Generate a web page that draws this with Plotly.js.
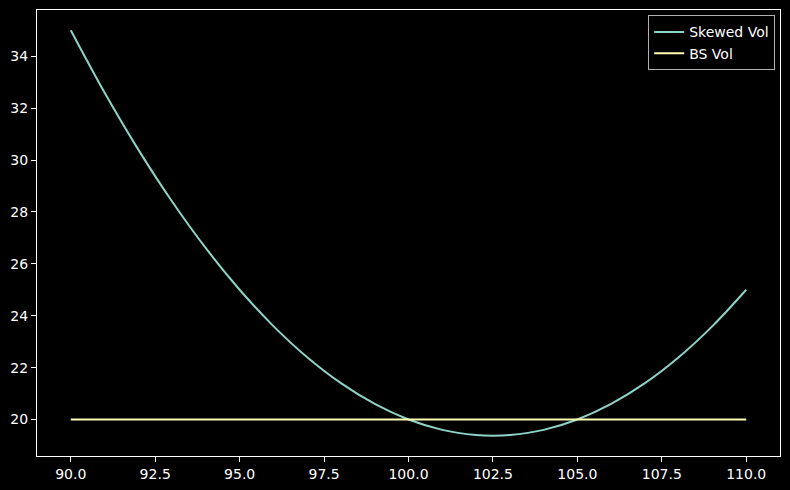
<!DOCTYPE html>
<html>
<head>
<meta charset="utf-8">
<script src="https://cdn.plot.ly/plotly-3.0.1.min.js"></script>
<style>html,body{margin:0;padding:0;background:#000;}#chart{width:790px;height:490px;}</style>
</head>
<body>
<div id="chart"></div>
<script>
// Strike prices (x)
const strikes = [90, 91, 92, 93, 94, 95, 96, 97, 98, 99, 100, 101, 102, 102.5, 103, 104, 105, 106, 107, 108, 109, 110];
// Skewed volatility values
const skewedVol = [35.0, 32.6, 30.4, 28.4, 26.6, 25.0, 23.6, 22.4, 21.4, 20.6, 20.0, 19.6, 19.4, 19.375, 19.4, 19.6, 20.0, 20.6, 21.4, 22.4, 23.6, 25.0];
// Flat Black-Scholes volatility
const bsStrikes = [90, 110];
const bsVol = [20, 20];
const xTicks = [90, 92.5, 95, 97.5, 100, 102.5, 105, 107.5, 110];
const xTickText = ["90.0", "92.5", "95.0", "97.5", "100.0", "102.5", "105.0", "107.5", "110.0"];
const yTicks = [20, 22, 24, 26, 28, 30, 32, 34];

const traces = [
  {x: strikes, y: skewedVol, mode: 'lines', name: 'Skewed Vol',
   line: {color: '#8dd3c7', width: 2, shape: 'spline', smoothing: 1.0}},
  {x: bsStrikes, y: bsVol, mode: 'lines', name: 'BS Vol',
   line: {color: '#feffb3', width: 2}}
];

const axisCommon = {
  showline: true, mirror: true, linecolor: '#ffffff', linewidth: 1,
  ticks: 'outside', ticklen: 5, tickwidth: 1, tickcolor: '#ffffff',
  showgrid: false, zeroline: false,
  tickfont: {family: 'DejaVu Sans', size: 14, color: '#ffffff'}
};

const layout = {
  width: 790, height: 490,
  paper_bgcolor: '#000000', plot_bgcolor: '#000000',
  margin: {l: 37, r: 10, t: 10, b: 34},
  showlegend: true,
  xaxis: Object.assign({}, axisCommon, {range: [89, 111], tickvals: xTicks, ticktext: xTickText}),
  yaxis: Object.assign({}, axisCommon, {range: [18.594, 35.78], tickvals: yTicks}),
  legend: {
    x: 0.9935, y: 0.988, xanchor: 'right', yanchor: 'top',
    bgcolor: 'rgba(0,0,0,0.8)', bordercolor: '#b0b0b0', borderwidth: 1,
    font: {family: 'DejaVu Sans', size: 14, color: '#ffffff'},
    tracegroupgap: 0, itemwidth: 30
  }
};

Plotly.newPlot('chart', traces, layout, {displayModeBar: false, staticPlot: true});
</script>
</body>
</html>
